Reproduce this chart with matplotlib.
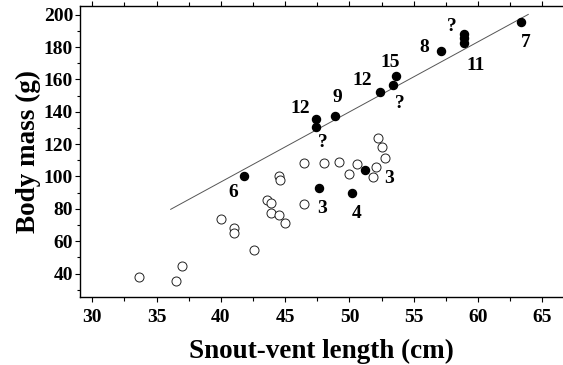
import matplotlib
matplotlib.use("Agg")
import matplotlib.pyplot as plt
from matplotlib.ticker import MultipleLocator

# Filled points (tagged animals)
filled_x = [47.4, 47.4, 48.9, 52.4, 53.4, 53.6, 57.1, 58.9, 58.9, 58.9, 63.3,
            41.8, 47.6, 50.2, 51.2]
filled_y = [135.4, 130.5, 137.5, 152.1, 156.5, 162.2, 177.7, 188.0, 185.5, 182.7, 195.3,
            100.3, 93.1, 90.0, 103.8]

# Open circles
open_x = [46.5, 48.0, 44.5, 44.6, 46.5, 43.6, 43.9, 43.9, 44.5, 45.0,
          40.0, 41.0, 41.0, 42.6, 37.0, 33.6, 36.5,
          49.2, 50.6, 50.0, 52.1, 51.8, 52.2, 52.5, 52.8]
open_y = [108.4, 108.4, 100.3, 98.1, 82.8, 85.7, 83.8, 77.6, 76.4, 71.0,
          73.9, 67.9, 65.0, 54.5, 44.4, 37.6, 35.5,
          109.2, 108.0, 101.8, 105.9, 99.7, 124.1, 118.3, 111.5]

# Regression line end points
line_x = [36.1, 63.9]
line_y = [79.7, 200.2]

# Annotation labels
label_text = ["12", "9", "12", "15", "?", "8", "?", "11", "7", "?", "6", "3", "4", "3"]
label_x = [46.2, 49.05, 51.0, 53.2, 53.9, 55.8, 57.95, 59.8, 63.7, 47.9, 40.96, 47.86, 50.56, 53.1]
label_y = [142.0, 148.6, 159.1, 170.5, 145.1, 179.6, 192.6, 168.4, 182.9, 121.0, 90.0, 80.1, 77.4, 98.7]

x_ticks = [30, 35, 40, 45, 50, 55, 60, 65]
y_ticks = [40, 60, 80, 100, 120, 140, 160, 180, 200]

plt.rcParams['font.family'] = ['Liberation Serif', 'DejaVu Serif']
plt.rcParams['font.weight'] = 'bold'

fig = plt.figure(figsize=(5.63, 3.65), dpi=100)
ax = fig.add_axes([80/563, 1 - 296.5/365, 1 - 80/563, (296.5 - 6)/365])

ax.plot(line_x, line_y, color='#555555', lw=0.7, zorder=1)
ax.plot(open_x, open_y, 'o', mfc='white', mec='#222222', mew=0.7, ms=6.5, ls='none', zorder=2)
ax.plot(filled_x, filled_y, 'o', mfc='black', mec='black', ms=5.8, ls='none', zorder=3)

for t, x, y in zip(label_text, label_x, label_y):
    ax.text(x, y, t, ha='center', va='center', fontsize=14, fontweight='bold')

ax.set_xlim(29.05, 66.6)
ax.set_ylim(25.8, 205.4)
ax.set_xticks(x_ticks)
ax.set_yticks(y_ticks)
ax.xaxis.set_minor_locator(MultipleLocator(2.5))
ax.yaxis.set_minor_locator(MultipleLocator(10))

ax.spines['right'].set_visible(False)
for s in ['left', 'bottom', 'top']:
    ax.spines[s].set_linewidth(1.0)

ax.tick_params(axis='x', which='both', direction='out', top=True, bottom=True,
               labeltop=False, width=0.8)
ax.tick_params(axis='x', which='major', length=3.5, pad=5.5, labelsize=14)
ax.tick_params(axis='x', which='minor', length=3)
ax.tick_params(axis='y', which='major', direction='out', length=3.5, width=0.8, pad=1.5, labelsize=14)
ax.tick_params(axis='y', which='minor', direction='out', length=2, width=0.8)
for lab in ax.get_xticklabels() + ax.get_yticklabels():
    lab.set_fontweight('bold')

ax.set_xlabel('Snout-vent length (cm)', fontsize=19.5, fontweight='bold', labelpad=9)
ax.set_ylabel('Body mass (g)', fontsize=19.5, fontweight='bold', labelpad=2)

fig.savefig('out.png', dpi=100)
